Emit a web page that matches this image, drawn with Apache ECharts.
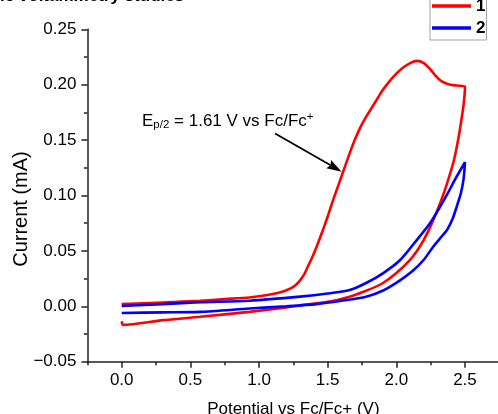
<!DOCTYPE html>
<html><head><meta charset="utf-8">
<script src="https://cdn.jsdelivr.net/npm/echarts@6/dist/echarts.min.js"></script>
<style>html,body{margin:0;padding:0;background:#fff}#c{width:498px;height:414px}</style>
</head><body><div id="c"></div>
<script>
const FONT = "'Liberation Sans', Arial, Helvetica, sans-serif";
const titleText = 'Cyclic voltammetry studies';
const xAxisName = 'Potential vs Fc/Fc+ (V)';
const yAxisName = 'Current (mA)';
const seriesNames = ['1', '2'];
const xTickValues = [0.0, 0.5, 1.0, 1.5, 2.0, 2.5];

// Sample 1 (red): forward (anodic) sweep then reverse sweep
const redFwdV = [0.00, 0.20, 0.40, 0.57, 0.75, 0.93, 1.05, 1.15, 1.20, 1.25, 1.29, 1.33, 1.36, 1.39, 1.42, 1.46, 1.50, 1.54, 1.58, 1.62, 1.66, 1.70, 1.74, 1.78, 1.82, 1.86, 1.90, 1.95, 2.00, 2.05, 2.10, 2.15, 2.20, 2.25, 2.29, 2.33, 2.38, 2.44, 2.50];
const redFwdI = [0.002, 0.003, 0.004, 0.005, 0.0065, 0.008, 0.010, 0.0125, 0.0145, 0.0175, 0.022, 0.029, 0.037, 0.045, 0.054, 0.067, 0.081, 0.096, 0.110, 0.124, 0.138, 0.151, 0.162, 0.171, 0.179, 0.187, 0.195, 0.203, 0.210, 0.2155, 0.2195, 0.2215, 0.2195, 0.2135, 0.2075, 0.203, 0.2005, 0.1992, 0.1982];
const redRevV = [2.49, 2.47, 2.45, 2.42, 2.38, 2.34, 2.29, 2.245, 2.20, 2.15, 2.10, 2.00, 1.90, 1.78, 1.66, 1.50, 1.30, 1.20, 0.93, 0.57, 0.30, 0.01, 0.00];
const redRevI = [0.182, 0.165, 0.150, 0.132, 0.115, 0.100, 0.084, 0.071, 0.060, 0.050, 0.042, 0.030, 0.0208, 0.014, 0.0087, 0.004, 0.001, -0.001, -0.005, -0.0095, -0.0125, -0.0168, -0.0135];

// Sample 2 (blue)
const blueFwdV = [0.00, 0.30, 0.57, 0.93, 1.20, 1.42, 1.60, 1.78, 1.90, 2.03, 2.12, 2.20, 2.27, 2.33, 2.37, 2.41, 2.44, 2.47, 2.49, 2.50];
const blueFwdI = [-0.006, -0.0055, -0.005, -0.002, 0.000, 0.002, 0.005, 0.0087, 0.014, 0.0237, 0.032, 0.042, 0.054, 0.063, 0.069, 0.079, 0.090, 0.102, 0.115, 0.130];
const blueRevV = [2.43, 2.37, 2.31, 2.245, 2.15, 2.03, 1.905, 1.78, 1.66, 1.50, 1.30, 0.93, 0.57, 0.30, 0.00];
const blueRevI = [0.115, 0.101, 0.088, 0.075, 0.060, 0.042, 0.030, 0.021, 0.0147, 0.0115, 0.0087, 0.005, 0.0036, 0.002, 0.0003];

// annotation (data coordinates)
const annotationText = ['E', 'p/2', ' = 1.61 V vs Fc/Fc', '+'];
const arrowFrom = [1.117, 0.156];
const arrowTo = [1.602, 0.1215];

function pairs(vs, is) { return vs.map((v, k) => [v, is[k]]); }
const redData = pairs(redFwdV, redFwdI).concat(pairs(redRevV, redRevI));
const blueData = pairs(blueFwdV, blueFwdI).concat(pairs(blueRevV, blueRevI));

const chart = echarts.init(document.getElementById('c'), null, {renderer: 'canvas'});
const axisColor = '#222';
chart.setOption({
  animation: false,
  backgroundColor: '#fff',
  textStyle: {fontFamily: FONT},
  title: {
    text: titleText, left: -36, top: -12, padding: 0,
    textStyle: {fontFamily: FONT, fontSize: 17, fontWeight: 'bold', color: '#000'}
  },
  legend: {
    orient: 'vertical', left: 430, top: -6,
    padding: [3.5, 1, 3.5, 2],
    icon: 'rect', itemWidth: 39, itemHeight: 3.5, itemGap: 5,
    borderColor: '#a0a0a0', borderWidth: 1,
    textStyle: {fontFamily: FONT, fontSize: 17, lineHeight: 17, fontWeight: 'bold', color: '#000'},
    data: seriesNames
  },
  grid: {left: 87.4, right: -1.3, top: 29.3, bottom: 52.3, containLabel: false, outerBoundsMode: 'none'},
  xAxis: [{
    type: 'value', min: -0.25, max: 2.75, interval: 0.25,
    name: xAxisName, nameLocation: 'middle', nameGap: 39,
    nameTextStyle: {fontFamily: FONT, fontSize: 17, color: '#000'},
    axisLine: {show: true, onZero: false, lineStyle: {color: axisColor, width: 1.5}},
    axisTick: {show: true, length: 6, customValues: xTickValues, lineStyle: {color: axisColor, width: 1.5}},
    axisLabel: {show: true, customValues: xTickValues, margin: 10, fontFamily: FONT, fontSize: 17, color: '#000',
      formatter: v => v.toFixed(1)},
    splitLine: {show: false}
  }, {
    type: 'value', min: -0.25, max: 2.75, interval: 0.25, position: 'bottom', gridIndex: 0,
    axisLine: {show: false, onZero: false}, axisLabel: {show: false}, splitLine: {show: false},
    axisTick: {show: true, length: 3.5, lineStyle: {color: axisColor, width: 1.5}}
  }],
  yAxis: {
    type: 'value', min: -0.05, max: 0.25, interval: 0.05,
    axisLine: {show: true, onZero: false, lineStyle: {color: axisColor, width: 1.5}},
    axisTick: {show: true, length: 6, lineStyle: {color: axisColor, width: 1.5}},
    minorTick: {show: true, splitNumber: 2, length: 3.5, lineStyle: {color: axisColor, width: 1.5}},
    axisLabel: {margin: 11, fontFamily: FONT, fontSize: 17, color: '#000',
      formatter: v => (v < 0 ? '\u2212' : '') + Math.abs(v).toFixed(2)},
    splitLine: {show: false}
  },
  series: [{
    name: seriesNames[0], type: 'line', data: redData, symbol: 'none', smooth: 0.25,
    lineStyle: {color: '#ff0000', width: 2.6}, itemStyle: {color: '#ff0000'}
  }, {
    name: seriesNames[1], type: 'line', data: blueData, symbol: 'none', smooth: 0.25,
    lineStyle: {color: '#0000ff', width: 2.6}, itemStyle: {color: '#0000ff'}
  }]
});

// arrow + annotation text placed from data coordinates
const p1 = chart.convertToPixel({gridIndex: 0}, arrowFrom);
const p2 = chart.convertToPixel({gridIndex: 0}, arrowTo);
const dx = p2[0] - p1[0], dy = p2[1] - p1[1];
const L = Math.hypot(dx, dy), ux = dx / L, uy = dy / L;
const headLen = 15, headHalf = 4.8;
const bx = p2[0] - ux * headLen, by = p2[1] - uy * headLen;
const nx = p2[0] - ux * headLen * 0.85, ny = p2[1] - uy * headLen * 0.85;
chart.setOption({
  graphic: [{
    type: 'text', silent: true, x: 21, y: 209, rotation: Math.PI / 2,
    style: {text: yAxisName, fontFamily: FONT, fontSize: 20, fill: '#000', align: 'center', verticalAlign: 'middle'}
  }, {
    type: 'line', silent: true,
    shape: {x1: p1[0], y1: p1[1], x2: nx, y2: ny},
    style: {stroke: '#000', lineWidth: 1.8}
  }, {
    type: 'polygon', silent: true,
    shape: {points: [[p2[0], p2[1]], [bx - uy * headHalf, by + ux * headHalf], [nx, ny], [bx + uy * headHalf, by - ux * headHalf]]},
    style: {fill: '#000'}
  }, {
    type: 'text', silent: true, x: 142, y: 121,
    style: {
      text: '{m|' + annotationText[0] + '}{sub|' + annotationText[1] + '}{m|' + annotationText[2] + '}{sup|' + annotationText[3] + '}',
      verticalAlign: 'middle', align: 'left',
      rich: {
        m: {fontFamily: FONT, fontSize: 17, lineHeight: 20, fill: '#000', verticalAlign: 'middle'},
        sub: {fontFamily: FONT, fontSize: 11.5, lineHeight: 11.5, fill: '#000', verticalAlign: 'bottom'},
        sup: {fontFamily: FONT, fontSize: 11.5, lineHeight: 13, fill: '#000', verticalAlign: 'top'}
      }
    }
  }]
});
</script></body></html>
